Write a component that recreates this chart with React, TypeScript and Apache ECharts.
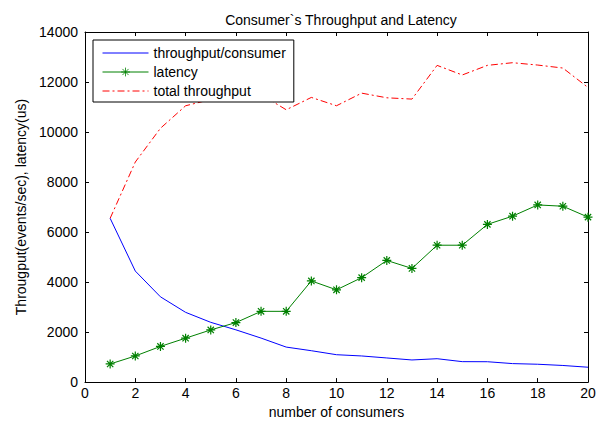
import React, { useEffect, useRef } from "react";
import * as echarts from "echarts";

const consumers = [1, 2, 3, 4, 5, 6, 7, 8, 9, 10, 11, 12, 13, 14, 15, 16, 17, 18, 19, 20];
const throughputPerConsumer = [6550, 4440, 3410, 2790, 2390, 2090, 1760, 1400, 1255, 1095, 1045, 965, 885, 935, 818, 815, 740, 714, 665, 595];
const latency = [725, 1045, 1427, 1757, 2087, 2380, 2830, 2830, 4046, 3690, 4177, 4865, 4546, 5474, 5474, 6307, 6636, 7085, 7033, 6597];
const totalThroughput = [6550, 8800, 10150, 11050, 11300, 11800, 11500, 10890, 11384, 11051, 11555, 11369, 11317, 12666, 12281, 12666, 12772, 12678, 12559, 11781];

const xTicks = { min: 0, max: 20, interval: 2 };
const yTicks = { min: 0, max: 14000, interval: 2000 };

const FONT = "Liberation Sans, Arial, sans-serif";
const ASTERISK = "path://M0,5L10,5M5,0L5,10M1.5,1.5L8.5,8.5M8.5,1.5L1.5,8.5";

export default function App() {
  const ref = useRef<HTMLDivElement>(null);
  useEffect(() => {
    if (!ref.current) return;
    const chart = echarts.init(ref.current, null, { renderer: "svg" });
    const axisCommon = {
      axisLine: { show: true, onZero: false, lineStyle: { color: "#000", width: 1 } },
      axisTick: { show: true, inside: true, length: 4, lineStyle: { color: "#000" } },
      splitLine: { show: false },
    };
    const pair = (xs: number[], ys: number[]) => xs.map((x, i) => [x, ys[i]]);
    const hidden = { color: "rgba(0,0,0,0)", borderWidth: 0, opacity: 0 };
    chart.setOption({
      animation: false,
      backgroundColor: "#fff",
      textStyle: { fontFamily: FONT },
      title: {
        text: "Consumer`s Throughput and Latency",
        left: 336,
        top: 8,
        textAlign: "center",
        textStyle: { fontFamily: FONT, fontSize: 14, fontWeight: "normal", color: "#000" },
      },
      grid: { left: 85, right: 12, top: 32, bottom: 39, containLabel: false },
      legend: {
        orient: "vertical",
        left: 93,
        top: 40,
        padding: [6, 8, 4, 9],
        itemGap: 5,
        itemWidth: 46,
        itemHeight: 11,
        borderColor: "#000",
        borderWidth: 1,
        backgroundColor: "#fff",
        lineStyle: { width: 1 },
        textStyle: { fontFamily: FONT, fontSize: 14, color: "#000" },
        data: [
          { name: "throughput/consumer", itemStyle: hidden },
          { name: "latency", itemStyle: { color: "rgba(0,0,0,0)", borderColor: "#008000", borderWidth: 0.8 } },
          { name: "total throughput", itemStyle: hidden },
        ],
      },
      xAxis: [
        {
          type: "value",
          ...xTicks,
          position: "bottom",
          ...axisCommon,
          axisLabel: { show: true, margin: 4, color: "#000", fontSize: 14, fontFamily: FONT },
          name: "number of consumers",
          nameLocation: "middle",
          nameGap: 19,
          nameTextStyle: { color: "#000", fontSize: 14, fontFamily: FONT },
        },
        {
          type: "value",
          ...xTicks,
          position: "top",
          ...axisCommon,
          axisLabel: { show: false },
        },
      ],
      yAxis: [
        {
          type: "value",
          ...yTicks,
          position: "left",
          ...axisCommon,
          axisLabel: {
            show: true,
            margin: 7,
            color: "#000",
            fontSize: 14,
            fontFamily: FONT,
            formatter: (v: number) => String(v),
          },
          name: "Througput(events/sec), latency(us)",
          nameLocation: "middle",
          nameGap: 53,
          nameTextStyle: { color: "#000", fontSize: 14, fontFamily: FONT },
        },
        {
          type: "value",
          ...yTicks,
          position: "right",
          ...axisCommon,
          axisLabel: { show: false },
        },
      ],
      series: [
        {
          name: "throughput/consumer",
          type: "line",
          data: pair(consumers, throughputPerConsumer),
          symbol: "none",
          color: "#0000ff",
          lineStyle: { color: "#0000ff", width: 1 },
        },
        {
          name: "latency",
          type: "line",
          data: pair(consumers, latency),
          symbol: ASTERISK,
          symbolSize: 9,
          color: "#008000",
          itemStyle: { color: "#008000", borderColor: "#008000", borderWidth: 1.2 },
          lineStyle: { color: "#008000", width: 1 },
        },
        {
          name: "total throughput",
          type: "line",
          data: pair(consumers, totalThroughput),
          symbol: "none",
          color: "#ff0000",
          lineStyle: { color: "#ff0000", width: 1, type: [7, 3, 2, 3] },
          z: 1,
        },
      ],
    });
    return () => chart.dispose();
  }, []);
  return <div ref={ref} style={{ width: 600, height: 424, position: "absolute", left: 0, top: 0 }} />;
}
